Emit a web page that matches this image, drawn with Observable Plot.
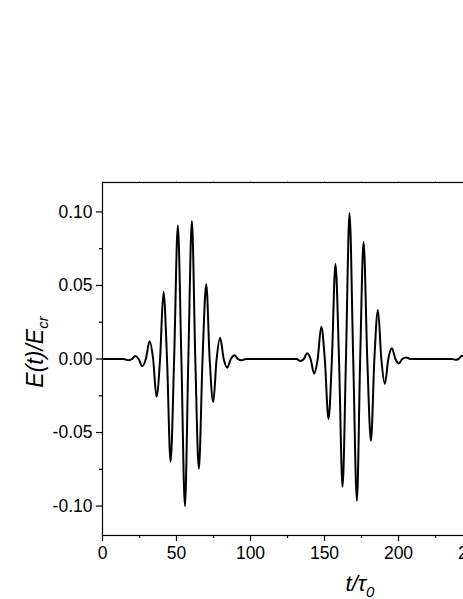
<!DOCTYPE html>
<html>
<head>
<meta charset="utf-8">
<script src="https://cdn.jsdelivr.net/npm/d3@7"></script>
<script src="https://cdn.jsdelivr.net/npm/@observablehq/plot@0.6"></script>
<style>
html, body { margin: 0; padding: 0; background: #fff; overflow: hidden; width: 463px; height: 599px; }
#chart svg { display: block; max-width: none !important; }
</style>
</head>
<body>
<div id="chart"></div>
<script>
// time t/τ0 (extrema and zero crossings)
const tValues = [
  0, 14, 17.6, 20.0, 22.1, 24.4, 26.8, 29.3, 31.8, 34.2, 36.5, 38.9, 41.2, 43.6, 46.0, 48.4,
  50.9, 53.3, 55.7, 58.0, 60.4, 62.7, 65.1, 67.6, 70.1, 72.4, 74.8, 77.1, 79.5, 81.9, 84.3,
  86.7, 89.2, 91.5, 93.9, 97,
  128, 131, 133.6, 136.0, 138.3, 140.6, 143.0, 145.4, 147.8, 150.2, 152.7, 155.0, 157.4,
  159.8, 162.2, 164.5, 166.9, 169.4, 171.9, 174.1, 176.4, 178.9, 181.4, 183.7, 186.1,
  188.4, 190.8, 193.1, 195.5, 197.9, 200.3, 202.6, 205.0, 208,
  236, 238.5, 240.5, 243, 245.5
];
// field E(t)/Ecr
const eValues = [
  0, 0, -0.0009, 0, 0.0020, 0, -0.0048, 0, 0.0120, 0, -0.0256, 0, 0.0456, 0, -0.0698, 0,
  0.0907, 0, -0.1000, 0, 0.0939, 0, -0.0746, 0, 0.0508, 0, -0.0293, 0, 0.0145, 0, -0.0059,
  0, 0.0025, 0, -0.0009, 0,
  0, 0, -0.0014, 0, 0.0039, 0, -0.0098, 0, 0.0220, 0, -0.0408, 0, 0.0646,
  0, -0.0869, 0, 0.0993, 0, -0.0964, 0, 0.0798, 0, -0.0556, 0, 0.0333,
  0, -0.0170, 0, 0.0073, 0, -0.0029, 0, 0.0011, 0,
  0, -0.0005, 0, 0.0022, 0
];
const xMajorTicks = [0, 50, 100, 150, 200, 250];
const xMinorTicks = [25, 75, 125, 175, 225];
const yMajorTicks = [-0.10, -0.05, 0.00, 0.05, 0.10];
const yMinorTicks = [-0.075, -0.025, 0.025, 0.075];
const yTickLabels = ["-0.10", "-0.05", "0.00", "0.05", "0.10"];

const data = tValues.map((t, i) => ({t, e: eValues[i]}));
const yLabel = v => yTickLabels[yMajorTicks.findIndex(d => Math.abs(d - v) < 1e-9)];

const chart = Plot.plot({
  width: 492,
  height: 599,
  marginLeft: 102,
  marginRight: 20,
  marginTop: 182,
  marginBottom: 64,
  style: {fontFamily: "'Liberation Sans', Arial, sans-serif", fontSize: "17.5px", color: "#000", background: "#fff", maxWidth: "none"},
  x: {domain: [0, 250]},
  y: {domain: [-0.12, 0.12]},
  marks: [
    Plot.frame({stroke: "#000", strokeWidth: 1.2}),
    Plot.axisX(xMajorTicks, {anchor: "bottom", tickSize: 6, tickPadding: 5, tickFormat: d => String(d), label: null, stroke: "#000", strokeWidth: 1.2}),
    Plot.axisX(xMinorTicks, {anchor: "bottom", tickSize: 3, tickFormat: () => "", label: null, strokeWidth: 1.2}),
    Plot.axisX(xMajorTicks.concat(xMinorTicks), {anchor: "top", tickSize: 2, tickFormat: () => "", label: null, strokeWidth: 0.8, strokeOpacity: 0.5}),
    Plot.axisY(yMajorTicks, {anchor: "left", tickSize: 6, tickPadding: 4, tickFormat: yLabel, label: null, strokeWidth: 1.2}),
    Plot.axisY(yMinorTicks, {anchor: "left", tickSize: 3, tickFormat: () => "", label: null, strokeWidth: 1.2}),
    Plot.line(data, {x: "t", y: "e", stroke: "#000", strokeWidth: 2, curve: "monotone-x"})
  ]
});
chart.style.maxWidth = "none";
chart.style.width = "492px";
chart.style.height = "599px";
document.getElementById("chart").appendChild(chart);

const svg = d3.select(chart);
// y-axis title
const yt = svg.append("text")
  .attr("transform", "translate(43,352) rotate(-90)")
  .attr("text-anchor", "middle")
  .attr("font-family", "'Liberation Sans', Arial, sans-serif")
  .attr("font-size", 23)
  .attr("font-style", "italic")
  .attr("fill", "#000");
yt.append("tspan").text("E(t)/E");
yt.append("tspan").attr("font-size", 15).attr("dy", 5).text("cr");
// x-axis title
const xt = svg.append("text")
  .attr("x", 360).attr("y", 591)
  .attr("text-anchor", "middle")
  .attr("font-family", "'Liberation Sans', Arial, sans-serif")
  .attr("font-size", 22)
  .attr("font-style", "italic")
  .attr("fill", "#000");
xt.append("tspan").text("t/τ");
xt.append("tspan").attr("font-size", 15).attr("dy", 6).text("0");
</script>
</body>
</html>
